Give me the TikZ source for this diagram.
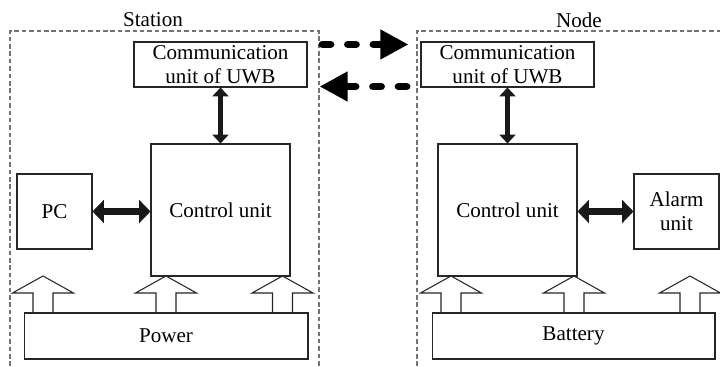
\documentclass[tikz,border=0pt]{standalone}
\usepackage{fontspec}
\setmainfont{Liberation Serif}
\usetikzlibrary{arrows.meta}

\tikzset{
  box/.style={draw=black!85, line width=0.6pt, align=center, inner sep=1pt,
    font=\fontsize{12}{13.6}\selectfont},
  frame/.style={draw=black!55, line width=0.6pt, dash pattern=on 2.6pt off 1.6pt},
  vlink/.style={{Triangle[length=5pt,width=9pt]}-{Triangle[length=5pt,width=9pt]},
    line width=2.3pt, black!90},
  hlink/.style={{Triangle[length=6.5pt,width=13pt]}-{Triangle[length=6.5pt,width=13pt]},
    line width=4pt, black!90},
  radio/.style={-{Triangle[length=16pt,width=16pt]}, line width=4.5pt,
    dash pattern=on 4.5pt off 10pt, line cap=round, black}
}

\begin{document}
\begin{tikzpicture}[x=0.02cm, y=-0.02cm]
  \useasboundingbox (0,0) rectangle (720,367);

  % the two dashed frames, open at the bottom
  \draw [frame] (10,366) -- (10,31) -- (319,31) -- (319,366);
  \draw [frame] (417,366) -- (417,31) -- (722,31);
  \node [font=\fontsize{12}{14}\selectfont] (stlabel) at (153,20) {Station};
  \node [font=\fontsize{12}{14}\selectfont] (ndlabel) at (579,20) {Node};

  % station side
  \node [box, minimum width=3.46cm, minimum height=0.9cm] (scomm) at (220.5,64.5) {Communication\\unit of UWB};
  \node [box, minimum width=2.78cm, minimum height=2.64cm] (sctrl) at (220.5,210) {Control unit};
  \node [box, minimum width=1.5cm, minimum height=1.5cm] (pc) at (54.5,211.5) {PC};
  \node [box, minimum width=5.68cm, minimum height=0.92cm] (power) at (166,336) {Power};

  % node side
  \node [box, minimum width=3.46cm, minimum height=0.9cm] (ncomm) at (507.5,64.5) {Communication\\unit of UWB};
  \node [box, minimum width=2.78cm, minimum height=2.64cm] (nctrl) at (507.5,210) {Control unit};
  \node [box, minimum width=1.7cm, minimum height=1.5cm] (alarm) at (676.5,211.5) {Alarm\\unit};
  \node [box, minimum width=5.66cm, minimum height=0.92cm] (battery) at (573.5,336) {Battery};

  % links inside each side
  \draw [vlink] (sctrl.north) -- (scomm.south);
  \draw [vlink] (nctrl.north) -- (ncomm.south);
  \draw [hlink] (pc.east) -- (pc.east -| sctrl.west);
  \draw [hlink] (nctrl.east |- alarm.west) -- (alarm.west);

  % radio link between the two UWB units
  \draw [radio] ([shift={(15,3)}]scomm.north east) -- ([shift={(-12,3)}]ncomm.north west);
  \draw [radio] ([shift={(-14,-1)}]ncomm.south west) -- ([shift={(12,-1)}]scomm.south east);

  % hollow supply arrows
  \foreach \x in {43,166,282.5,451,574,690}
    \draw [black!85, line width=0.6pt]
      (\x-10,313) -- (\x-10,293) -- (\x-30.5,293) -- (\x,276)
      -- (\x+30.5,293) -- (\x+10,293) -- (\x+10,313);
\end{tikzpicture}
\end{document}
